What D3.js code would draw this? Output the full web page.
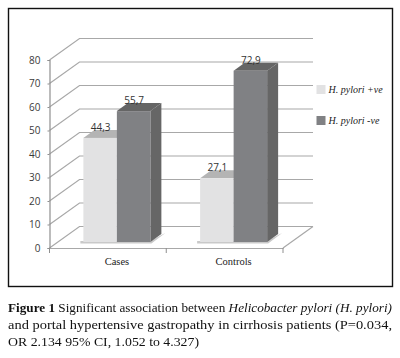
<!DOCTYPE html>
<html>
<head>
<meta charset="utf-8">
<script src="https://cdn.jsdelivr.net/npm/d3@7"></script>
<style>
html, body { margin: 0; padding: 0; background: #fff; }
svg { display: block; filter: blur(0.3px); }
</style>
</head>
<body>
<svg id="chart" width="400" height="358"></svg>
<script>
var categories = ["Cases", "Controls"];
var seriesNames = ["H. pylori +ve", "H. pylori -ve"];
var positive = [44.3, 27.1];
var negative = [55.7, 72.9];
var yTicks = [0, 10, 20, 30, 40, 50, 60, 70, 80];
var seriesValues = [positive, negative];

var frontColor = ["#e2e2e3", "#808184"];
var topColor = ["#b4b4b4", "#656565"];
var sideColor = ["#d0d0d0", "#666666"];

var svg = d3.select("#chart");

// frame round the chart
svg.append("rect")
    .attr("x", 8.5).attr("y", 8.5)
    .attr("width", 384).attr("height", 278)
    .attr("fill", "#fff").attr("stroke", "#111").attr("stroke-width", 1.4);

// front plane of the 3d box
var x = d3.scaleBand().domain(categories).range([49.5, 283]);
var y = d3.scaleLinear().domain([0, 80]).range([248, 60]);
var inner = d3.scaleBand().domain([0, 1]).range([0, 67]);

var wallDx = 30, wallDy = -21.5;   // depth of the back wall
var barDx = 9, barDy = -6;         // bars stand a little behind the front edge
var depthX = 11, depthY = -8;      // depth of a bar

var gridColor = "#a8a8a8";

// floor and walls
var grid = svg.append("g").attr("fill", "none").attr("stroke", gridColor).attr("stroke-width", 1.2);

grid.selectAll("path.wall")
    .data(yTicks)
    .join("path")
    .attr("class", "wall")
    .attr("d", function (d) {
        var p = d3.path();
        p.moveTo(x.range()[0], y(d));
        p.lineTo(x.range()[0] + wallDx, y(d) + wallDy);
        p.lineTo(x.range()[1] + wallDx, y(d) + wallDy);
        return p.toString();
    });

// right edge of floor
grid.append("line")
    .attr("x1", x.range()[1]).attr("y1", y(0))
    .attr("x2", x.range()[1] + wallDx).attr("y2", y(0) + wallDy);

// y axis
svg.append("g")
    .attr("transform", "translate(" + x.range()[0] + ",0)")
    .call(d3.axisLeft(y).tickValues(yTicks).tickSize(2).tickPadding(7))
    .call(function (g) {
        g.select(".domain").attr("stroke", "#8f8f8f").attr("stroke-width", 1.2);
        g.selectAll(".tick line").attr("stroke", "#8f8f8f");
        g.selectAll("text")
            .attr("font-family", "'Open Sans', sans-serif")
            .attr("font-size", 10)
            .attr("fill", "#3a3a3a");
    });

// x axis
svg.append("g")
    .attr("transform", "translate(0," + y(0) + ")")
    .call(d3.axisBottom(x).tickSize(0).tickFormat(""))
    .call(function (g) {
        g.select(".domain").attr("stroke", gridColor).attr("stroke-width", 1.2);
    });
var xEdges = [x.range()[0], x.range()[0] + x.step(), x.range()[1]];
svg.append("g").selectAll("line")
    .data(xEdges)
    .join("line")
    .attr("x1", function (d) { return d; })
    .attr("x2", function (d) { return d; })
    .attr("y1", y(0))
    .attr("y2", y(0) + 5)
    .attr("stroke", "#8f8f8f");

svg.append("g").selectAll("text")
    .data(categories)
    .join("text")
    .attr("x", function (d) { return x(d) + x.bandwidth() / 2 + barDx; })
    .attr("y", 265)
    .attr("text-anchor", "middle")
    .attr("font-family", "'Liberation Serif', serif")
    .attr("font-size", 10.5)
    .attr("fill", "#222")
    .text(function (d) { return d; });

// bars
var bars = svg.append("g");

function barLeft(cat, s) {
    return x(cat) + x.bandwidth() / 2 + barDx - inner.bandwidth() + inner(s);
}

// floor shadow
bars.selectAll("path.shadow")
    .data(categories)
    .join("path")
    .attr("class", "shadow")
    .attr("fill", "#c9c9c9")
    .attr("d", function (d) {
        var l = barLeft(d, 0) - 3, r = barLeft(d, 1) + inner.bandwidth();
        var b = y(0) + barDy;
        return "M" + l + "," + (b + 1.5) + "L" + (r + 1) + "," + (b + 1.5) +
            "L" + (r + depthX + 4) + "," + (b + depthY - 1) + "L" + (r + depthX) + "," + (b + depthY + 1) + "L" + r + "," + (b - 1) + "L" + l + "," + (b - 1) + "Z";
    });

seriesValues.forEach(function (values, s) {
    var g = bars.append("g");
    categories.forEach(function (cat, i) {
        var l = barLeft(cat, s), w = inner.bandwidth();
        var t = y(values[i]) + barDy, b = y(0) + barDy;
        // top
        g.append("path")
            .attr("fill", topColor[s])
            .attr("d", "M" + l + "," + t + "L" + (l + depthX) + "," + (t + depthY) +
                "L" + (l + w + depthX) + "," + (t + depthY) + "L" + (l + w) + "," + t + "Z");
        // side
        g.append("path")
            .attr("fill", sideColor[s])
            .attr("d", "M" + (l + w) + "," + t + "L" + (l + w + depthX) + "," + (t + depthY) +
                "L" + (l + w + depthX) + "," + (b + depthY) + "L" + (l + w) + "," + b + "Z");
        // front
        g.append("rect")
            .attr("x", l).attr("y", t)
            .attr("width", w).attr("height", b - t)
            .attr("fill", frontColor[s]);
    });
});

// value labels, on top of the bars
seriesValues.forEach(function (values, s) {
    categories.forEach(function (cat, i) {
        svg.append("text")
            .attr("x", barLeft(cat, s) + inner.bandwidth() / 2 + 0.5)
            .attr("y", y(values[i]) + barDy + depthY + 1)
            .attr("text-anchor", "middle")
            .attr("font-family", "'Open Sans', sans-serif")
            .attr("font-size", 10)
            .attr("fill", "#333")
            .text(String(values[i]).replace(".", ","));
    });
});

// legend
var legend = svg.append("g").selectAll("g")
    .data(seriesNames)
    .join("g")
    .attr("transform", function (d, i) { return "translate(316.5," + (85 + i * 31) + ")"; });
legend.append("rect")
    .attr("width", 9).attr("height", 9)
    .attr("fill", function (d, i) { return frontColor[i]; });
legend.append("text")
    .attr("x", 12).attr("y", 8)
    .attr("font-family", "'Liberation Serif', serif")
    .attr("font-style", "italic")
    .attr("font-size", 10)
    .attr("fill", "#222")
    .text(function (d) { return d; });

// caption
var captionLines = [
    [["Figure 1", "bold"], [" Significant association between ", ""], ["Helicobacter pylori (H. pylori)", "italic"]],
    [["and portal hypertensive gastropathy in cirrhosis patients (P=0.034,", ""]],
    [["OR 2.134 95% CI, 1.052 to 4.327)", ""]]
];
var captionY = [312, 329, 346];
var captionLen = [384, 384, 191];
captionLines.forEach(function (line, i) {
    var t = svg.append("text")
        .attr("x", 8).attr("y", captionY[i])
        .attr("font-family", "'Liberation Serif', serif")
        .attr("font-size", 12)
        .attr("fill", "#111")
        .attr("textLength", captionLen[i])
        .attr("lengthAdjust", "spacingAndGlyphs")
        .style("white-space", "pre");
    line.forEach(function (part) {
        t.append("tspan")
            .attr("font-weight", part[1] == "bold" ? "bold" : null)
            .attr("font-style", part[1] == "italic" ? "italic" : null)
            .text(part[0]);
    });
});
</script>
</body>
</html>
